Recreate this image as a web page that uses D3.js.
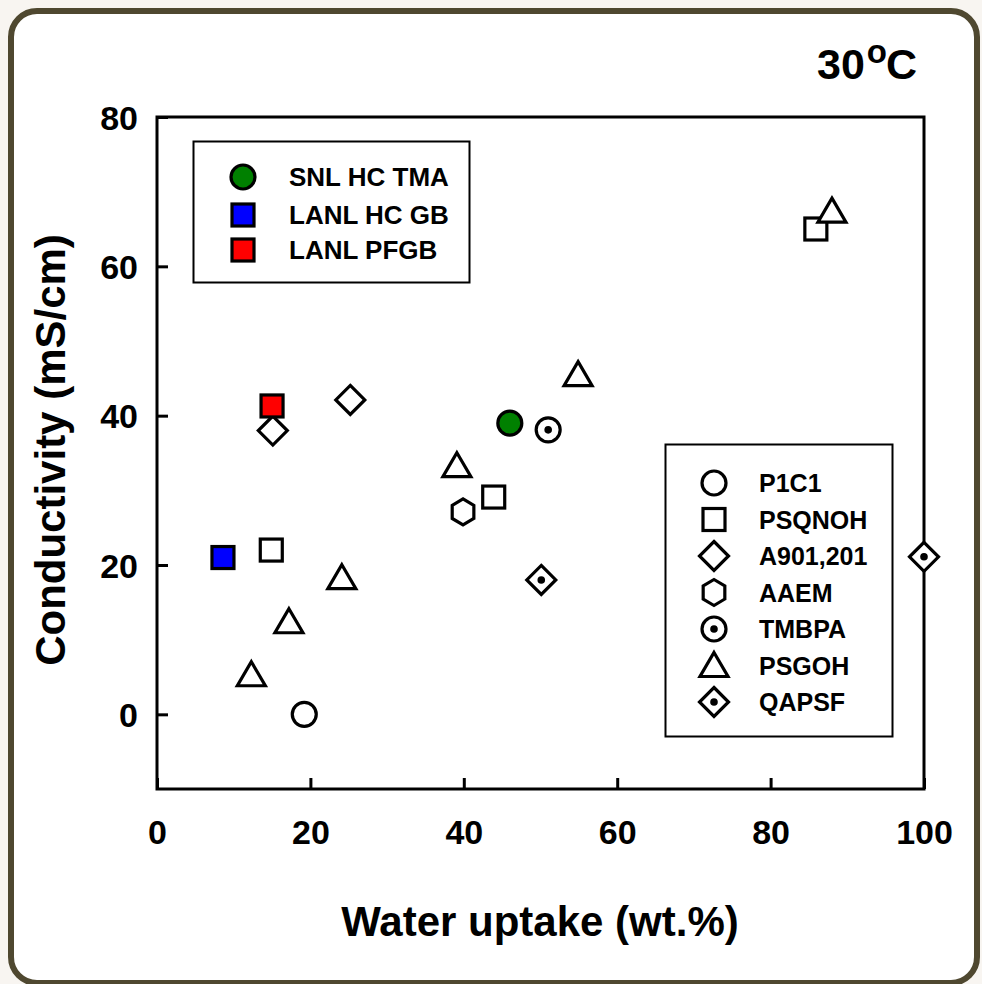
<!DOCTYPE html>
<html><head><meta charset="utf-8">
<script src="https://cdn.jsdelivr.net/npm/d3@7"></script>
<style>body{margin:0;background:#f8f5f1;} svg{display:block;} text{font-family:"Liberation Sans",Arial,sans-serif;font-weight:bold;}</style>
</head><body>
<svg id="c" width="982" height="984"></svg>
<script>
const xTicks = [0, 20, 40, 60, 80, 100];
const yTicks = [0, 20, 40, 60, 80];
const xDomain = [0, 100];
const yDomain = [-10, 80];

// Highlighted series (filled)
const snlHcTma = [[46, 39]];
const lanlHcGb = [[8.6, 21]];
const lanlPfgb = [[15, 41.3]];
// Literature series (open)
const p1c1 = [[19.2, 0]];
const psqnoh = [[14.9, 22], [43.9, 29.1], [85.9, 65]];
const a901 = [[15.1, 38], [25.2, 42.1]];
const aaem = [[39.9, 27.1]];
const tmbpa = [[51, 38.1]];
const psgoh = [[12.3, 5.3], [17.2, 12.4], [24.1, 18.3], [39.1, 33.3], [54.9, 45.5], [88, 67.4]];
const qapsf = [[50.1, 18], [100, 21.1]];

const legend1 = [
  {name: "SNL HC TMA", shape: "circle", fill: "#008000", data: snlHcTma},
  {name: "LANL HC GB", shape: "square", fill: "#0000ff", data: lanlHcGb},
  {name: "LANL PFGB", shape: "square", fill: "#ff0000", data: lanlPfgb}
];
const legend2 = [
  {name: "P1C1", shape: "circle", fill: "#fff", data: p1c1},
  {name: "PSQNOH", shape: "square", fill: "#fff", data: psqnoh},
  {name: "A901,201", shape: "diamond", fill: "#fff", data: a901},
  {name: "AAEM", shape: "hexagon", fill: "#fff", data: aaem},
  {name: "TMBPA", shape: "dotcircle", fill: "#fff", data: tmbpa},
  {name: "PSGOH", shape: "triangle", fill: "#fff", data: psgoh},
  {name: "QAPSF", shape: "dotdiamond", fill: "#fff", data: qapsf}
];

const svg = d3.select("#c");
// panel
svg.append("rect").attr("x", 11).attr("y", 11).attr("width", 966).attr("height", 972)
  .attr("rx", 26).attr("fill", "#fff").attr("stroke", "#4f4830").attr("stroke-width", 6);

const L = 157, R = 924, T = 117, B = 789;
const x = d3.scaleLinear().domain(xDomain).range([L, R]);
const y = d3.scaleLinear().domain(yDomain).range([B, T]);

function drawMarker(g, shape, fill) {
  const sw = 3.2;
  if (shape === "circle" || shape === "dotcircle") {
    g.append("circle").attr("r", 12).attr("fill", fill).attr("stroke", "#000").attr("stroke-width", sw);
    if (shape === "dotcircle") g.append("circle").attr("r", 3.8).attr("fill", "#000");
  } else if (shape === "square") {
    g.append("rect").attr("x", -11).attr("y", -11).attr("width", 22).attr("height", 22)
      .attr("fill", fill).attr("stroke", "#000").attr("stroke-width", sw);
  } else if (shape === "diamond" || shape === "dotdiamond") {
    const s = 14.5;
    g.append("path").attr("d", `M0,${-s}L${s},0L0,${s}L${-s},0Z`).attr("fill", fill)
      .attr("stroke", "#000").attr("stroke-width", sw).attr("stroke-linejoin", "miter");
    if (shape === "dotdiamond") g.append("circle").attr("r", 3.8).attr("fill", "#000");
  } else if (shape === "hexagon") {
    const pts = d3.range(6).map(i => { const a = Math.PI / 6 + i * Math.PI / 3; return [12.5 * Math.cos(a), 13 * Math.sin(a)]; });
    g.append("path").attr("d", "M" + pts.map(p => p.join(",")).join("L") + "Z").attr("fill", fill)
      .attr("stroke", "#000").attr("stroke-width", sw);
  } else if (shape === "triangle") {
    g.append("path").attr("d", "M0,-13L14,11L-14,11Z").attr("fill", fill)
      .attr("stroke", "#000").attr("stroke-width", sw).attr("stroke-linejoin", "miter");
  }
}

// axes (box frame)
svg.append("rect").attr("x", L).attr("y", T).attr("width", R - L).attr("height", B - T)
  .attr("fill", "none").attr("stroke", "#000").attr("stroke-width", 3);

const xAxis = d3.axisBottom(x).tickValues(xTicks).tickSize(-11).tickPadding(0).tickFormat(d3.format("d"));
const gx = svg.append("g").attr("transform", `translate(0,${B})`).call(xAxis);
gx.select(".domain").remove();
gx.selectAll(".tick line").attr("stroke", "#000").attr("stroke-width", 3);
gx.selectAll(".tick text").attr("y", 55).attr("dy", "0").attr("font-size", 34).attr("fill", "#000")
  .style("font-family", "Liberation Sans, Arial, sans-serif").style("font-weight", "bold");

const yAxis = d3.axisLeft(y).tickValues(yTicks).tickSize(-11).tickPadding(0).tickFormat(d3.format("d"));
const gy = svg.append("g").attr("transform", `translate(${L},0)`).call(yAxis);
gy.select(".domain").remove();
gy.selectAll(".tick line").attr("stroke", "#000").attr("stroke-width", 3);
gy.selectAll(".tick text").attr("x", -19).attr("dy", "0.36em").attr("font-size", 34).attr("fill", "#000")
  .style("font-family", "Liberation Sans, Arial, sans-serif").style("font-weight", "bold");

// axis titles
svg.append("text").attr("x", 540).attr("y", 936).attr("text-anchor", "middle").attr("font-size", 42).text("Water uptake (wt.%)");
svg.append("text").attr("transform", "translate(65,450) rotate(-90)").attr("text-anchor", "middle").attr("font-size", 42).text("Conductivity (mS/cm)");

// title 30°C
const t = svg.append("text").attr("x", 817).attr("y", 79).attr("font-size", 43);
t.append("tspan").text("30");
t.append("tspan").attr("font-size", 33).attr("dy", -16).attr("dx", 2).text("o");
t.append("tspan").attr("dy", 16).attr("dx", -1).text("C");

// data markers: literature first, then highlights
[...legend2, ...legend1].forEach(s => {
  s.data.forEach(d => {
    const g = svg.append("g").attr("transform", `translate(${x(d[0])},${y(d[1])})`);
    drawMarker(g, s.shape, s.fill);
  });
});

// legend 1
svg.append("rect").attr("x", 193.5).attr("y", 141.5).attr("width", 276).attr("height", 141)
  .attr("fill", "#fff").attr("stroke", "#000").attr("stroke-width", 2);
const l1y = [177, 215, 250];
legend1.forEach((s, i) => {
  const g = svg.append("g").attr("transform", `translate(243,${l1y[i]})`);
  drawMarker(g, s.shape, s.fill);
  svg.append("text").attr("x", 289).attr("y", l1y[i]).attr("dy", "0.36em").attr("font-size", 26).text(s.name);
});

// legend 2
svg.append("rect").attr("x", 665.5).attr("y", 444.5).attr("width", 227).attr("height", 292)
  .attr("fill", "#fff").attr("stroke", "#000").attr("stroke-width", 2);
legend2.forEach((s, i) => {
  const yy = 483 + i * 36.5;
  const g = svg.append("g").attr("transform", `translate(714,${yy})`);
  drawMarker(g, s.shape, s.fill);
  svg.append("text").attr("x", 759).attr("y", yy).attr("dy", "0.36em").attr("font-size", 25).text(s.name);
});
</script>
</body></html>
